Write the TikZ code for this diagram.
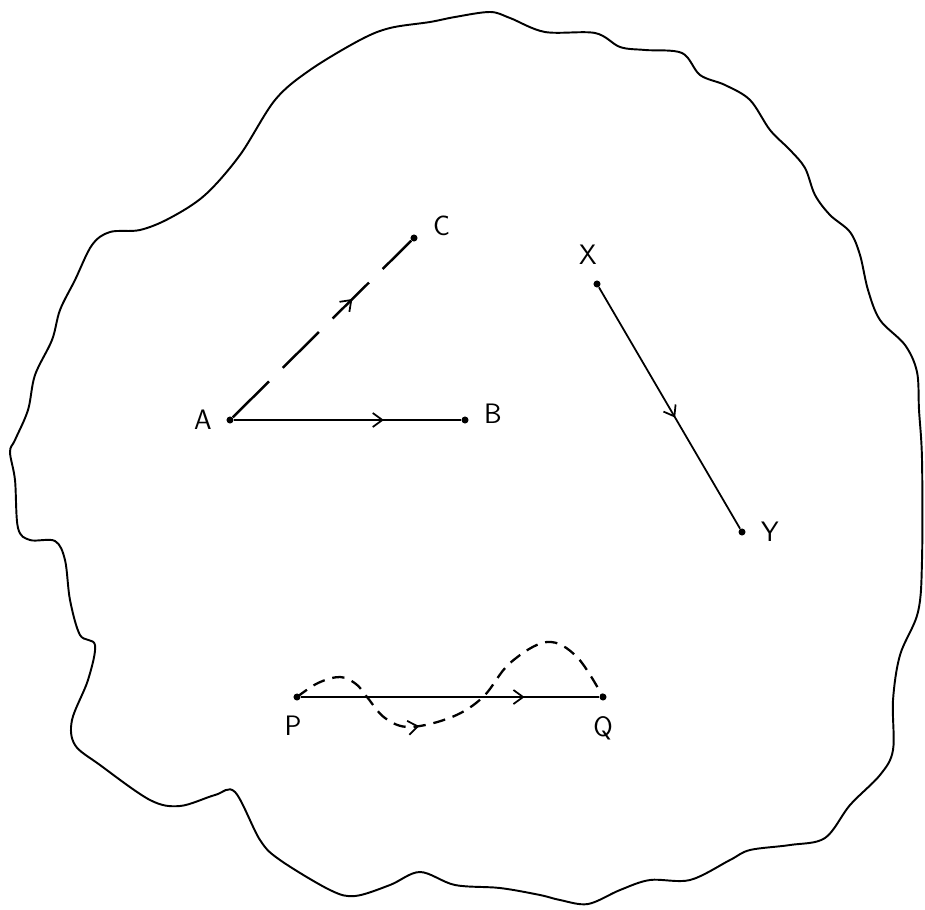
\documentclass[tikz,border=0pt]{standalone}
\usepackage{tikz}
\usetikzlibrary{arrows.meta, positioning, decorations.markings}
\tikzstyle{dotpt} = [circle, fill=black, inner sep=0pt, minimum size=4pt]
\tikzstyle{lbl} = [font=\fontsize{16}{16}\selectfont\sffamily, inner sep=0pt]
\tikzstyle{midarrow} = [postaction={decorate}, decoration={markings, mark=at position #1 with {\arrow{Straight Barb[length=5.5pt, width=8pt, line width=1pt]}}}]
\tikzstyle{boundary} = [line width=1.1pt, line join=round]

\begin{document}
\begin{tikzpicture}[x=0.02cm, y=-0.02cm]
    \useasboundingbox (0,0) rectangle (925,909);

    % outline of the region
    \draw[boundary] plot[smooth cycle, tension=0.55] coordinates {
        (455,17) (490,12) (510,18) (545,32) (595,33) (620,47) (645,50) (682,53)
        (700,75) (725,85) (750,100) (770,130) (790,150) (805,168) (815,195)
        (830,215) (850,232) (860,255) (868,290) (880,320) (905,345) (917,372)
        (919,410) (922,460) (922,560) (918,612) (900,655) (893,700) (893,750)
        (880,775) (850,805) (825,838) (790,845) (750,850) (730,860) (690,880)
        (650,880) (620,890) (588,904) (560,900) (540,895) (500,888) (455,885)
        (420,872) (390,885) (355,896) (330,890) (280,860) (260,840) (235,792)
        (215,795) (180,806) (150,800) (100,765) (75,745) (72,720) (88,680)
        (95,645) (80,635) (70,600) (65,560) (55,541) (30,540) (18,528)
        (15,480) (10,452) (15,440) (28,410) (35,375) (52,340) (60,310)
        (75,280) (92,245) (110,232) (140,230) (170,218) (205,195) (240,155)
        (275,100) (310,70) (360,40) (390,28) (430,22)};

    % points
    \node[dotpt] (A) at (230,420) {};
    \node[dotpt] (B) at (465,420) {};
    \node[dotpt] (C) at (414,238) {};
    \node[dotpt] (X) at (597,284) {};
    \node[dotpt] (Y) at (742,532) {};
    \node[dotpt] (P) at (297,697) {};
    \node[dotpt] (Q) at (603,697) {};

    % labels
    \node[lbl, left=0.28cm of A] (labA) {A};
    \node[lbl, right=0.3cm of B, yshift=0.12cm] (labB) {B};
    \node[lbl, right=0.3cm of C, yshift=0.25cm] (labC) {C};
    \node[lbl, above=0.3cm of X, xshift=-0.18cm] (labX) {X};
    \node[lbl, right=0.3cm of Y] (labY) {Y};
    \node[lbl, below=0.3cm of P, xshift=-0.08cm] (labP) {P};
    \node[lbl, below=0.3cm of Q] (labQ) {Q};

    % vectors
    \draw[line width=1.5pt, midarrow=0.66] (A) -- (B);
    \draw[line width=1.4pt, dash pattern=on 29pt off 11pt, midarrow=0.67] (A) -- (C);
    \draw[line width=1pt, midarrow=0.54] (X) -- (Y);
    \draw[line width=1.3pt, midarrow=0.75] (P) -- (Q);
    \draw[line width=1.3pt, dash pattern=on 7pt off 4.5pt, midarrow=0.38]
        plot[smooth, tension=0.6] coordinates {(297,697) (318,683) (340,677)
        (356,684) (367,697) (385,718) (410,727) (452,717) (483,697) (510,663)
        (547,642) (577,657) (603,697)};
\end{tikzpicture}
\end{document}
